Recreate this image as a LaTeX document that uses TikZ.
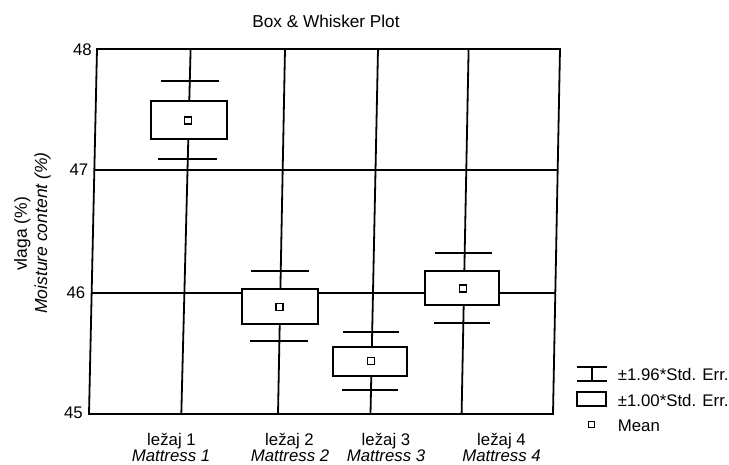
\documentclass[tikz,border=0pt]{standalone}
\usepackage{fontspec}
\setmainfont{Liberation Sans}
\begin{document}
\begin{tikzpicture}[x=1pt,y=-1pt,
  txt/.style={inner sep=0pt,font=\fontsize{16.8}{20}\selectfont},
  itx/.style={inner sep=0pt,font=\fontsize{16.8}{20}\selectfont\itshape},
  gridln/.style={line width=1.8pt,black},
  errbox/.style={line width=1.8pt,draw=black,fill=white},
  capln/.style={line width=1.8pt,black},
  meansq/.style={draw=black,line width=1.4pt,fill=white,minimum size=7pt,inner sep=0pt,shape=rectangle}]
\useasboundingbox (0,0) rectangle (729,464);
\fill[white] (0,0) rectangle (729,464);
% title
\node[txt,font=\fontsize{17.2}{20}\selectfont,anchor=base] (title) at (326,27) {Box \& Whisker Plot};
% frame corners
\coordinate (tl) at (97,49);
\coordinate (tr) at (560,49);
\coordinate (br) at (553,414);
\coordinate (bl) at (89,414);
% horizontal grid lines
\draw[gridln] (94.4,170) -- (557.7,170);
\draw[gridln] (91.65,293) -- (555.3,293);
% vertical category lines
\draw[gridln] (190.6,49) -- (181.3,414);
\draw[gridln] (285,49) -- (278,414);
\draw[gridln] (378,49) -- (370.5,414);
\draw[gridln] (468.6,49) -- (461.6,414);
% frame
\draw[gridln] (tl) -- (tr) -- (br) -- (bl) -- cycle;
% tick labels
\node[txt,anchor=east] (t48) at (92,49.5) {48};
\node[txt,anchor=east] (t47) at (88.5,169.8) {47};
\node[txt,anchor=east] (t46) at (85.5,292.5) {46};
\node[txt,anchor=east] (t45) at (83,413) {45};
% group 1
\draw[capln] (160.7,80.7) -- (219,80.7);
\draw[capln] (158.3,159) -- (216.7,159);
\draw[errbox] (151.3,100.7) rectangle (226.7,139);
\node[meansq] (m1) at (187.7,120.3) {};
% group 2
\draw[capln] (251,271) -- (309,271);
\draw[capln] (250,340.7) -- (307.7,340.7);
\draw[errbox] (241.7,289) rectangle (317.7,324);
\node[meansq] (m2) at (279.3,306.7) {};
% group 3
\draw[capln] (343.3,331.7) -- (399,331.7);
\draw[capln] (342.3,390) -- (398.3,390);
\draw[errbox] (333.3,346.7) rectangle (406.7,376);
\node[meansq] (m3) at (371,360.7) {};
% group 4
\draw[capln] (435,253.3) -- (491.7,253.3);
\draw[capln] (434,322.7) -- (490,322.7);
\draw[errbox] (425,270.7) rectangle (499,305);
\node[meansq] (m4) at (462.7,288.3) {};
% category labels
\node[txt,anchor=base] (c1a) at (171.5,445) {ležaj 1};
\node[itx,anchor=base] (c1b) at (171,461.5) {Mattress 1};
\node[txt,anchor=base] (c2a) at (289.5,445) {ležaj 2};
\node[itx,anchor=base] (c2b) at (290,461.5) {Mattress 2};
\node[txt,anchor=base] (c3a) at (386,445) {ležaj 3};
\node[itx,anchor=base] (c3b) at (386,461.5) {Mattress 3};
\node[txt,anchor=base] (c4a) at (501.5,445) {ležaj 4};
\node[itx,anchor=base] (c4b) at (501.5,461.5) {Mattress 4};
% y axis label
\node[txt,font=\fontsize{17.5}{20}\selectfont,anchor=base,rotate=90] (yl1) at (27,234) {vlaga (\%)};
\node[itx,font=\fontsize{17.5}{20}\selectfont\itshape,anchor=base,rotate=90] (yl2) at (47,233) {Moisture content (\%)};
% legend
\draw[capln] (577.3,367.3) -- (606.7,367.3);
\draw[capln] (577.3,380.7) -- (606.7,380.7);
\draw[capln] (591.7,367.3) -- (591.7,380.7);
\draw[errbox] (577.3,392.3) rectangle (606,405.7);
\node[meansq,minimum size=6pt] (lm) at (591.7,424.3) {};
\node[txt,anchor=base west] (l1) at (617.7,380.5) {±1.96*Std. Err.};
\node[txt,anchor=base west] (l2) at (617.7,406) {±1.00*Std. Err.};
\node[txt,anchor=base west] (l3) at (617.7,431.5) {Mean};
\end{tikzpicture}
\end{document}
